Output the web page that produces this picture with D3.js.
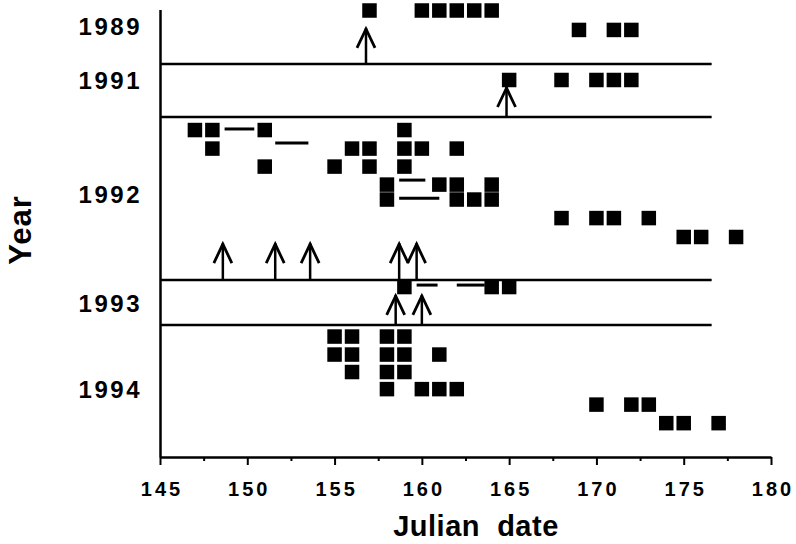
<!DOCTYPE html>
<html>
<head>
<meta charset="utf-8">
<script src="https://cdn.jsdelivr.net/npm/d3@7/dist/d3.min.js"></script>
<style>
  body { margin: 0; background: #fff; }
  svg { display: block; font-family: "Liberation Sans", Arial, Helvetica, sans-serif; font-weight: bold; }
</style>
</head>
<body>
<div id="chart"></div>
<script>
// julian dates of observations, grouped by year and by stacking row (row = vertical slot)
var years = ["1989", "1991", "1992", "1993", "1994"];
var yearLabelRows = [0.86, 3.86, 10.22, 16.25, 21.06];
var separatorRows = [2.97, 5.92, 14.97, 17.47];

var obs1989 = [[0, [157, 160, 161, 162, 163, 164]], [1.08, [169, 171, 172]]];
var obs1991 = [[3.86, [165, 168, 170, 171, 172]]];
var obs1992 = [
  [6.64, [147, 148, 151, 159]],
  [7.67, [148, 156, 157, 159, 160, 162]],
  [8.67, [151, 155, 157, 159]],
  [9.67, [158, 161, 162, 164]],
  [10.5, [158, 162, 163, 164]],
  [11.53, [168, 170, 171, 173]],
  [12.58, [175, 176, 178]]
];
var obs1993 = [[15.36, [159, 164, 165]]];
var obs1994 = [
  [18.11, [155, 156, 158, 159]],
  [19.11, [155, 156, 158, 159, 161]],
  [20.08, [156, 158, 159]],
  [21.03, [158, 160, 161, 162]],
  [21.89, [170, 172, 173]],
  [22.92, [174, 175, 177]]
];

// horizontal dashes: [from, to, row]
var dashes = [
  [148.7, 150.4, 6.58],
  [151.6, 153.5, 7.36],
  [158.7, 160.2, 9.42],
  [158.7, 161.0, 10.43],
  [159.7, 160.9, 15.25],
  [162.0, 163.6, 15.25]
];

// arrows: [date, base row, tip row]
var arrows = [
  [156.8, 2.97, 0.97],
  [164.85, 5.92, 4.25],
  [148.6, 14.97, 12.92],
  [151.6, 14.97, 12.92],
  [153.6, 14.97, 12.92],
  [158.7, 14.97, 12.92],
  [159.7, 14.97, 12.92],
  [158.5, 17.47, 15.8],
  [160.0, 17.47, 15.8]
];

var majorTicks = [145, 150, 155, 160, 165, 170, 175, 180];
var minorTicks = [147.5, 152.5, 157.5, 162.5, 167.5, 172.5, 177.5];
var separatorEnd = 176.6;

var width = 796, height = 544;

var svg = d3.select("#chart").append("svg")
  .attr("width", width)
  .attr("height", height);

var x = d3.scaleLinear().domain([145, 180]).range([160, 771]);
var y = d3.scaleLinear().domain([-0.05, 24.8]).range([9.6, 457]);

var squares = [];
[obs1989, obs1991, obs1992, obs1993, obs1994].forEach(function(yr) {
  yr.forEach(function(r) {
    r[1].forEach(function(d) { squares.push({day: d, row: r[0]}); });
  });
});

// separators between years
svg.selectAll(".sep")
  .data(separatorRows)
  .enter().append("line")
  .attr("x1", x(145)).attr("x2", x(separatorEnd))
  .attr("y1", function(d) { return y(d); })
  .attr("y2", function(d) { return y(d); })
  .attr("stroke", "#000").attr("stroke-width", 2.5);

// x axis
var xAxis = svg.append("g")
  .attr("transform", "translate(0," + y(24.8) + ")")
  .call(d3.axisBottom(x).tickValues(majorTicks).tickSize(8).tickSizeOuter(0));
xAxis.select(".domain").attr("stroke-width", 2.5);
xAxis.selectAll(".tick line").attr("stroke-width", 2);
xAxis.selectAll(".tick text")
  .attr("dy", null).attr("y", 39).attr("dx", "1.5px")
  .attr("fill", "#000")
  .style("font-size", "20px").style("font-weight", "bold")
  .style("letter-spacing", "3px");

var xMinor = svg.append("g")
  .attr("transform", "translate(0," + y(24.8) + ")")
  .call(d3.axisBottom(x).tickValues(minorTicks).tickSize(4).tickFormat(""));
xMinor.select(".domain").remove();
xMinor.selectAll(".tick line").attr("stroke-width", 2);

// y axis (plain line)
var yAxis = svg.append("g")
  .attr("transform", "translate(" + x(145) + ",0)")
  .call(d3.axisLeft(y).tickValues([]).tickSizeOuter(0));
yAxis.select(".domain").attr("stroke-width", 2.5);

// squares
svg.selectAll(".sq")
  .data(squares)
  .enter().append("rect")
  .attr("x", function(d) { return x(d.day) - 7.25; })
  .attr("y", function(d) { return y(d.row) - 7.25; })
  .attr("width", 14.5).attr("height", 14.5)
  .attr("fill", "#000");

// dashes
svg.selectAll(".dash")
  .data(dashes)
  .enter().append("line")
  .attr("x1", function(d) { return x(d[0]); })
  .attr("x2", function(d) { return x(d[1]); })
  .attr("y1", function(d) { return y(d[2]); })
  .attr("y2", function(d) { return y(d[2]); })
  .attr("stroke", "#000").attr("stroke-width", 3);

// arrows
var arr = svg.selectAll(".arrow")
  .data(arrows)
  .enter().append("g");
arr.append("line")
  .attr("x1", function(d) { return x(d[0]); })
  .attr("x2", function(d) { return x(d[0]); })
  .attr("y1", function(d) { return y(d[1]); })
  .attr("y2", function(d) { return y(d[2]); })
  .attr("stroke", "#000").attr("stroke-width", 2.5);
arr.append("path")
  .attr("d", function(d) {
    var px = x(d[0]), py = y(d[2]) + 1;
    return "M" + (px - 9) + "," + (py + 19) + "L" + px + "," + py + "L" + (px + 9) + "," + (py + 19);
  })
  .attr("fill", "none").attr("stroke", "#000").attr("stroke-width", 2.8)
  .attr("stroke-linejoin", "miter");

// year labels
svg.selectAll(".yr")
  .data(years)
  .enter().append("text")
  .attr("x", 142)
  .attr("y", function(d, i) { return y(yearLabelRows[i]) + 8.8; })
  .attr("text-anchor", "end")
  .style("font-size", "24px")
  .style("letter-spacing", "2.5px")
  .text(function(d) { return d; });

// axis titles
svg.append("text")
  .attr("transform", "translate(31,230) rotate(-90)")
  .attr("text-anchor", "middle")
  .style("font-size", "31px")
  .style("letter-spacing", "1px")
  .text("Year");

svg.append("text")
  .attr("x", 476).attr("y", 536)
  .attr("text-anchor", "middle")
  .style("font-size", "29px")
  .style("letter-spacing", "0.5px")
  .style("white-space", "pre")
  .text("Julian  date");
</script>
</body>
</html>
